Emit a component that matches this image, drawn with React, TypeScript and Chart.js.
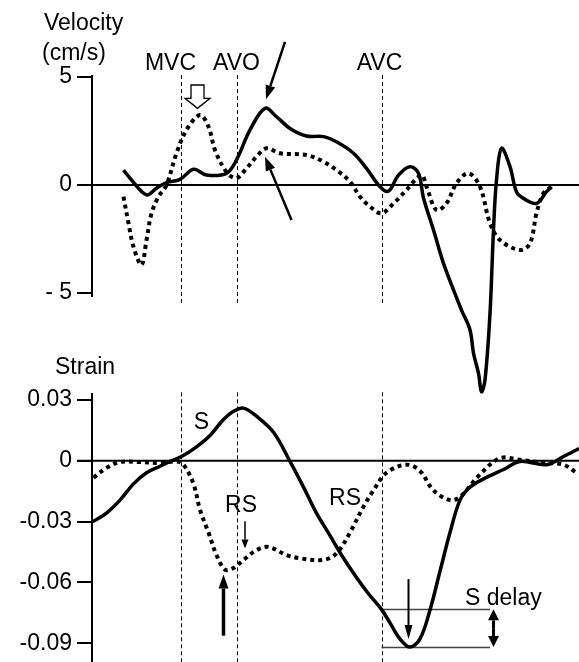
import React, { useEffect, useRef } from 'react';
import { Chart, registerables } from 'chart.js';

Chart.register(...registerables);

// ---------- data (time in ms) ----------
const VEL_SOLID_T = [63, 79, 109, 129, 149, 176, 203, 229, 269, 289, 316, 346, 369, 396, 429, 463, 489, 523, 549, 576, 593, 613, 636, 653, 663, 683, 703, 723, 739, 756, 763, 773, 779, 786, 796, 803, 809, 819, 836, 849, 863, 889, 909, 919];
const VEL_SOLID_V = [0.69, 0.23, -0.46, -0.15, 0.11, 0.26, 0.73, 0.46, 0.54, 1.16, 2.55, 3.55, 3.16, 2.62, 2.27, 2.24, 2.0, 1.47, 0.77, -0.08, -0.28, 0.46, 0.85, 0.54, -0.6, -2.08, -3.63, -4.86, -5.79, -6.71, -7.79, -8.72, -9.57, -9.03, -5.94, -2.08, 0.23, 1.7, 0.85, -0.32, -0.62, -0.85, -0.31, -0.08];

const VEL_DOT_T = [63, 73, 83, 99, 109, 119, 133, 149, 169, 189, 216, 233, 246, 269, 289, 309, 329, 349, 376, 429, 463, 489, 516, 536, 556, 579, 603, 629, 659, 669, 689, 709, 729, 753, 776, 796, 816, 856, 876, 889, 903, 919];
const VEL_DOT_V = [-0.54, -1.77, -2.86, -3.7, -2.55, -1.31, -0.54, 0, 1.47, 2.55, 3.24, 2.7, 1.62, 0.6, 0.32, 0.77, 1.31, 1.7, 1.47, 1.39, 1.08, 0.69, 0.15, -0.54, -1.0, -1.31, -0.85, -0.23, 0.46, -0.08, -1.16, -0.85, 0.08, 0.54, -0.08, -1.77, -2.55, -3.01, -2.7, -1.31, -0.38, -0.08];

const STRAIN_SOLID_T = [1, 29, 56, 83, 109, 136, 156, 179, 209, 236, 263, 283, 303, 329, 363, 396, 423, 449, 476, 499, 529, 553, 579, 596, 616, 636, 656, 676, 696, 716, 736, 756, 789, 823, 856, 909, 943, 974];
const STRAIN_SOLID_V = [-0.0301, -0.0258, -0.0194, -0.0114, -0.0059, -0.0027, -0.0003, 0.0021, 0.0069, 0.0125, 0.0204, 0.0244, 0.026, 0.022, 0.0141, -0.0003, -0.013, -0.0258, -0.0369, -0.0465, -0.0576, -0.0656, -0.0733, -0.08, -0.0879, -0.0919, -0.0879, -0.0736, -0.0545, -0.0354, -0.0194, -0.013, -0.0082, -0.0043, -0.0003, -0.0019, 0.0021, 0.0061];

const STRAIN_DOT_T = [3, 29, 56, 96, 136, 169, 183, 203, 216, 233, 249, 266, 283, 303, 329, 353, 389, 416, 463, 489, 516, 543, 563, 589, 629, 656, 683, 716, 736, 776, 816, 856, 909, 943, 969];
const STRAIN_DOT_V = [-0.0083, -0.0035, -0.0006, -0.0006, -0.0011, -0.0003, -0.0019, -0.0114, -0.0242, -0.0354, -0.0465, -0.0537, -0.0529, -0.0489, -0.0441, -0.0425, -0.0465, -0.0481, -0.0489, -0.0457, -0.0354, -0.0226, -0.0146, -0.0059, -0.0019, -0.005, -0.0146, -0.0194, -0.0178, -0.0067, 0.0013, 0.0005, -0.0011, -0.0019, -0.0059];

const EVENT_NAMES = ['MVC', 'AVO', 'AVC'];
const EVENT_TIMES = [177, 289, 579];

const VEL_TICKS = [5, 0, -5];
const VEL_TICK_LABELS = ['5', '0', '- 5'];
const STRAIN_TICKS = [0.03, 0, -0.03, -0.06, -0.09];
const STRAIN_TICK_LABELS = ['0.03', '0', '-0.03', '-0.06', '-0.09'];

const T_MIN = 0;
const T_MAX = 974;

// ---------- style ----------
const W = 579;
const H = 662;
const FONT = 'Arial, "Liberation Sans", sans-serif';
const FS = 23;
const TEXT_DY = 2;
const EVENT_LABEL_DX = [-10, 0, -2];

function arrow(ctx: CanvasRenderingContext2D, x1: number, y1: number, x2: number, y2: number, lw: number, hl: number, hw: number) {
  const a = Math.atan2(y2 - y1, x2 - x1);
  const bx = x2 - hl * Math.cos(a);
  const by = y2 - hl * Math.sin(a);
  ctx.save();
  ctx.setLineDash([]);
  ctx.strokeStyle = '#000';
  ctx.fillStyle = '#000';
  ctx.lineWidth = lw;
  ctx.beginPath();
  ctx.moveTo(x1, y1);
  ctx.lineTo(bx, by);
  ctx.stroke();
  ctx.beginPath();
  ctx.moveTo(x2, y2);
  ctx.lineTo(bx + (hw / 2) * Math.sin(a), by - (hw / 2) * Math.cos(a));
  ctx.lineTo(bx - (hw / 2) * Math.sin(a), by + (hw / 2) * Math.cos(a));
  ctx.closePath();
  ctx.fill();
  ctx.restore();
}

function vline(ctx: CanvasRenderingContext2D, x: number, y1: number, y2: number) {
  ctx.beginPath();
  ctx.moveTo(x, y1);
  ctx.lineTo(x, y2);
  ctx.stroke();
}

function txt(ctx: CanvasRenderingContext2D, s: string, x: number, y: number) {
  ctx.fillText(s, x, y + TEXT_DY);
}

function interp(ts: number[], vs: number[], t: number) {
  for (let i = 0; i < ts.length - 1; i++) {
    if (t >= ts[i] && t <= ts[i + 1]) {
      const f = (t - ts[i]) / (ts[i + 1] - ts[i]);
      return vs[i] + f * (vs[i + 1] - vs[i]);
    }
  }
  return vs[vs.length - 1];
}

function ds(ts: number[], vs: number[], dotted: boolean) {
  return {
    data: ts.map((t, i) => ({ x: t, y: vs[i] })),
    borderColor: '#000',
    borderWidth: dotted ? 4 : 3.5,
    borderDash: dotted ? [4, 4] : [],
    borderCapStyle: 'butt' as const,
    pointRadius: 0,
    tension: 0.35,
    fill: false,
    clip: false as any,
  };
}

function baseOptions(yMin: number, yMax: number, ticks: number[], labels: string[], padTop: number, padBottom: number) {
  return {
    animation: false as const,
    responsive: false,
    maintainAspectRatio: false,
    devicePixelRatio: 1,
    events: [] as any[],
    layout: { padding: { left: 0, right: 0, top: padTop, bottom: padBottom } },
    plugins: { legend: { display: false }, tooltip: { enabled: false }, title: { display: false } },
    scales: {
      x: { type: 'linear' as const, min: T_MIN, max: T_MAX, display: false },
      y: {
        type: 'linear' as const,
        min: yMin,
        max: yMax,
        afterFit: (s: any) => { s.width = 92; },
        afterBuildTicks: (s: any) => { s.ticks = ticks.map((v) => ({ value: v })); },
        grid: { drawOnChartArea: false, drawTicks: true, tickLength: 15, lineWidth: 2, color: '#000' },
        border: { display: false },
        ticks: {
          padding: 5,
          color: '#000',
          font: { family: FONT, size: FS },
          callback: (_v: any, i: number) => labels[i],
        },
      },
    },
  };
}

export default function App() {
  const topRef = useRef<HTMLCanvasElement>(null);
  const botRef = useRef<HTMLCanvasElement>(null);

  useEffect(() => {
    const topPlugin = {
      id: 'velDeco',
      beforeDatasetsDraw(chart: any) {
        const { ctx, chartArea } = chart;
        const x = chart.scales.x;
        const y = chart.scales.y;
        ctx.save();
        ctx.strokeStyle = '#000';
        ctx.lineWidth = 1;
        ctx.setLineDash([4, 3]);
        EVENT_TIMES.forEach((t) => {
          const px = Math.round(x.getPixelForValue(t)) + 0.5;
          vline(ctx, px, y.getPixelForValue(5.09), y.getPixelForValue(-5.46));
        });
        ctx.setLineDash([]);
        ctx.lineWidth = 2;
        vline(ctx, chartArea.left, y.getPixelForValue(5.09), y.getPixelForValue(-5.19));
        ctx.beginPath();
        ctx.moveTo(chartArea.left - 15, y.getPixelForValue(0));
        ctx.lineTo(W, y.getPixelForValue(0));
        ctx.stroke();
        ctx.restore();
      },
      afterDatasetsDraw(chart: any) {
        const { ctx } = chart;
        const x = chart.scales.x;
        const y = chart.scales.y;
        ctx.save();
        ctx.fillStyle = '#000';
        ctx.font = `${FS}px ${FONT}`;
        ctx.textBaseline = 'middle';
        ctx.textAlign = 'left';
        txt(ctx, 'Velocity', 44, 22);
        txt(ctx, '(cm/s)', 42, 52);
        ctx.textAlign = 'center';
        EVENT_NAMES.forEach((n, i) => {
          txt(ctx, n, x.getPixelForValue(EVENT_TIMES[i]) + EVENT_LABEL_DX[i], y.getPixelForValue(5.71));
        });
        arrow(ctx, x.getPixelForValue(386), y.getPixelForValue(6.63), x.getPixelForValue(348), y.getPixelForValue(3.97), 2.5, 14, 10);
        arrow(ctx, x.getPixelForValue(399), y.getPixelForValue(-1.62), x.getPixelForValue(346), y.getPixelForValue(1.31), 2.5, 14, 10);
        const cx = x.getPixelForValue(211);
        const top = y.getPixelForValue(4.63);
        const tip = y.getPixelForValue(3.55);
        const base = top + (tip - top) * 0.57;
        ctx.beginPath();
        ctx.moveTo(cx - 6.5, top);
        ctx.lineTo(cx + 6.5, top);
        ctx.lineTo(cx + 6.5, base);
        ctx.lineTo(cx + 12.5, base);
        ctx.lineTo(cx, tip);
        ctx.lineTo(cx - 12.5, base);
        ctx.lineTo(cx - 6.5, base);
        ctx.closePath();
        ctx.fillStyle = '#fff';
        ctx.fill();
        ctx.lineWidth = 1.3;
        ctx.strokeStyle = '#000';
        ctx.stroke();
        ctx.restore();
      },
    };

    const botPlugin = {
      id: 'strainDeco',
      beforeDatasetsDraw(chart: any) {
        const { ctx, chartArea } = chart;
        const x = chart.scales.x;
        const y = chart.scales.y;
        ctx.save();
        ctx.strokeStyle = '#000';
        ctx.lineWidth = 1;
        ctx.setLineDash([4, 3]);
        EVENT_TIMES.forEach((t) => {
          const px = Math.round(x.getPixelForValue(t)) + 0.5;
          vline(ctx, px, y.getPixelForValue(0.0338), H);
        });
        ctx.setLineDash([]);
        ctx.lineWidth = 2;
        vline(ctx, chartArea.left, y.getPixelForValue(0.0335), H);
        ctx.beginPath();
        ctx.moveTo(chartArea.left - 15, y.getPixelForValue(0));
        ctx.lineTo(W, y.getPixelForValue(0));
        ctx.stroke();
        const sAvc = interp(STRAIN_SOLID_T, STRAIN_SOLID_V, EVENT_TIMES[2]);
        const sMin = Math.min(...STRAIN_SOLID_V);
        ctx.strokeStyle = '#444';
        ctx.lineWidth = 1.5;
        [sAvc, sMin].forEach((s) => {
          const py = Math.round(y.getPixelForValue(s)) + 0.5;
          ctx.beginPath();
          ctx.moveTo(x.getPixelForValue(EVENT_TIMES[2]), py);
          ctx.lineTo(x.getPixelForValue(796), py);
          ctx.stroke();
        });
        ctx.restore();
      },
      afterDatasetsDraw(chart: any) {
        const { ctx } = chart;
        const x = chart.scales.x;
        const y = chart.scales.y;
        ctx.save();
        ctx.fillStyle = '#000';
        ctx.font = `${FS}px ${FONT}`;
        ctx.textBaseline = 'middle';
        ctx.textAlign = 'left';
        txt(ctx, 'Strain', 55, 366);
        ctx.textAlign = 'center';
        txt(ctx, 'S', x.getPixelForValue(219), y.getPixelForValue(0.0197));
        txt(ctx, 'RS', x.getPixelForValue(298), y.getPixelForValue(-0.021));
        txt(ctx, 'RS', x.getPixelForValue(506), y.getPixelForValue(-0.0178));
        ctx.textAlign = 'left';
        txt(ctx, 'S delay', x.getPixelForValue(746), y.getPixelForValue(-0.0671));
        arrow(ctx, x.getPixelForValue(306), y.getPixelForValue(-0.0298), x.getPixelForValue(306), y.getPixelForValue(-0.0433), 1.5, 9, 7);
        arrow(ctx, x.getPixelForValue(263), y.getPixelForValue(-0.0863), x.getPixelForValue(263), y.getPixelForValue(-0.0561), 3.5, 14, 10);
        arrow(ctx, x.getPixelForValue(633), y.getPixelForValue(-0.0584), x.getPixelForValue(633), y.getPixelForValue(-0.0879), 2, 14, 8);
        const sAvc = interp(STRAIN_SOLID_T, STRAIN_SOLID_V, EVENT_TIMES[2]);
        const sMin = Math.min(...STRAIN_SOLID_V);
        const dx = x.getPixelForValue(803);
        const y1 = y.getPixelForValue(sAvc);
        const y2 = y.getPixelForValue(sMin);
        const mid = (y1 + y2) / 2;
        arrow(ctx, dx, mid, dx, y1, 3, 11, 11);
        arrow(ctx, dx, mid, dx, y2, 3, 11, 11);
        ctx.restore();
      },
    };

    const top = new Chart(topRef.current!, {
      type: 'line',
      data: { datasets: [ds(VEL_SOLID_T, VEL_SOLID_V, false), ds(VEL_DOT_T, VEL_DOT_V, true)] as any },
      options: baseOptions(-5, 5, VEL_TICKS, VEL_TICK_LABELS, 77, H - 293) as any,
      plugins: [topPlugin],
    });
    const bot = new Chart(botRef.current!, {
      type: 'line',
      data: { datasets: [ds(STRAIN_SOLID_T, STRAIN_SOLID_V, false), ds(STRAIN_DOT_T, STRAIN_DOT_V, true)] as any },
      options: baseOptions(-0.09, 0.03, STRAIN_TICKS, STRAIN_TICK_LABELS, 400, H - 651) as any,
      plugins: [botPlugin],
    });
    return () => {
      top.destroy();
      bot.destroy();
    };
  }, []);

  const cs: React.CSSProperties = { position: 'absolute', left: 0, top: 0, width: W, height: H };
  return (
    <div style={{ position: 'absolute', left: 0, top: 0, width: W, height: H, background: '#fff' }}>
      <canvas ref={topRef} width={W} height={H} style={cs} />
      <canvas ref={botRef} width={W} height={H} style={cs} />
    </div>
  );
}
